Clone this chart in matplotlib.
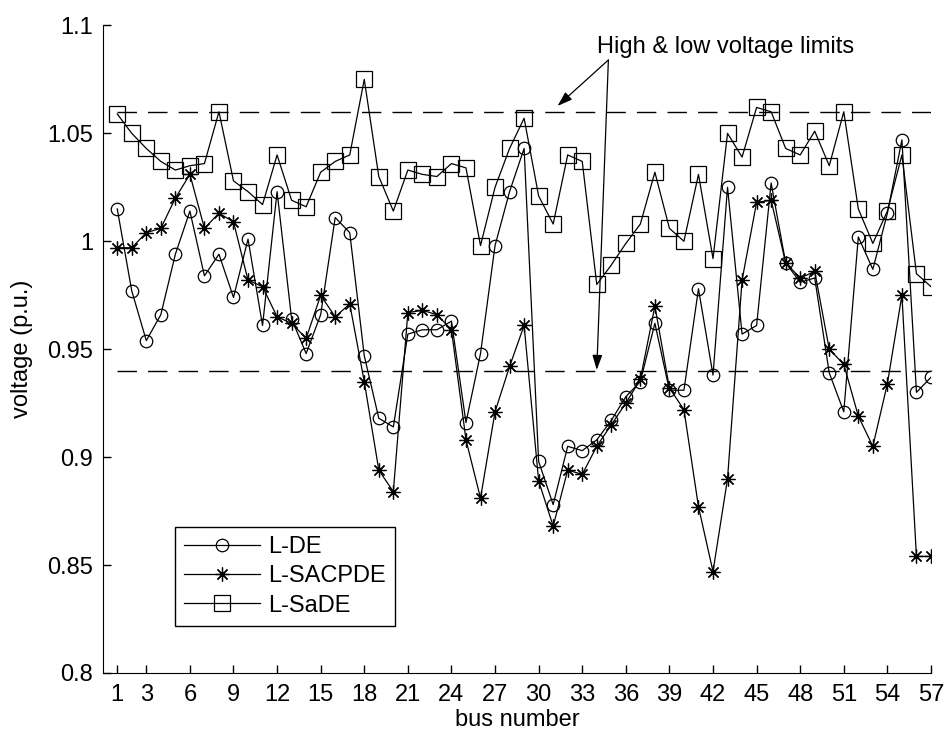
import matplotlib
matplotlib.use('Agg')
import matplotlib.pyplot as plt

bus = list(range(1, 58))

l_de = [1.015, 0.977, 0.954, 0.966, 0.994, 1.014, 0.984, 0.994, 0.974, 1.001,
        0.961, 1.023, 0.964, 0.948, 0.966, 1.011, 1.004, 0.947, 0.918, 0.914,
        0.957, 0.959, 0.959, 0.963, 0.916, 0.948, 0.998, 1.023, 1.043, 0.898,
        0.878, 0.905, 0.903, 0.908, 0.917, 0.928, 0.935, 0.962, 0.931, 0.931,
        0.978, 0.938, 1.025, 0.957, 0.961, 1.027, 0.990, 0.981, 0.983, 0.939,
        0.921, 1.002, 0.987, 1.013, 1.047, 0.930, 0.937]

l_sacpde = [0.997, 0.997, 1.004, 1.006, 1.020, 1.031, 1.006, 1.013, 1.009, 0.982,
            0.979, 0.965, 0.962, 0.955, 0.975, 0.965, 0.971, 0.935, 0.894, 0.884,
            0.967, 0.968, 0.966, 0.959, 0.908, 0.881, 0.921, 0.942, 0.961, 0.889,
            0.868, 0.894, 0.892, 0.905, 0.915, 0.925, 0.936, 0.970, 0.932, 0.922,
            0.877, 0.847, 0.890, 0.982, 1.018, 1.019, 0.990, 0.983, 0.986, 0.950,
            0.943, 0.919, 0.905, 0.934, 0.975, 0.854, 0.854]

l_sade = [1.059, 1.050, 1.043, 1.037, 1.033, 1.035, 1.036, 1.060, 1.028, 1.023,
          1.017, 1.040, 1.019, 1.016, 1.032, 1.037, 1.040, 1.075, 1.030, 1.014,
          1.033, 1.031, 1.030, 1.036, 1.034, 0.998, 1.025, 1.043, 1.057, 1.021,
          1.008, 1.040, 1.037, 0.980, 0.989, 0.999, 1.008, 1.032, 1.006, 1.000,
          1.031, 0.992, 1.050, 1.039, 1.062, 1.060, 1.043, 1.040, 1.051, 1.035,
          1.060, 1.015, 0.999, 1.014, 1.040, 0.985, 0.979]

v_high = 1.06
v_low = 0.94

x_ticks = [1, 3, 6, 9, 12, 15, 18, 21, 24, 27, 30, 33, 36, 39, 42, 45, 48, 51, 54, 57]
y_ticks = [0.8, 0.85, 0.9, 0.95, 1.0, 1.05, 1.1]
y_tick_labels = ['0.8', '0.85', '0.9', '0.95', '1', '1.05', '1.1']

plt.rcParams['font.family'] = ['Liberation Sans', 'DejaVu Sans']
fs = 17

fig = plt.figure(figsize=(9.44, 7.48), dpi=100)
ax = fig.add_axes([0.1088, 0.1003, 0.8774, 0.8657])

lw = 0.9
ax.plot(bus, l_de, color='black', lw=lw, marker='o', ms=9, mfc='none', mew=0.9, label='L-DE')
ax.plot(bus, l_sacpde, color='black', lw=lw, marker=(8, 2, 0), ms=10, mew=0.9, label='L-SACPDE')
ax.plot(bus, l_sade, color='black', lw=lw, marker='s', ms=11, mfc='none', mew=0.9, label='L-SaDE')

# voltage limit lines
ax.plot([1, 57], [v_high, v_high], color='black', lw=1, dashes=(14, 8))
ax.plot([1, 57], [v_low, v_low], color='black', lw=1, dashes=(14, 8))

ax.set_xlim(0, 57)
ax.set_ylim(0.8, 1.1)
ax.set_xticks(x_ticks)
ax.set_yticks(y_ticks)
ax.set_yticklabels(y_tick_labels)
ax.tick_params(direction='in', length=6, width=1, labelsize=fs, pad=7)
ax.tick_params(axis='x', pad=8)
ax.spines['top'].set_visible(False)
ax.spines['right'].set_visible(False)
ax.set_xlabel('bus number', fontsize=fs, labelpad=2)
ax.set_ylabel('voltage (p.u.)', fontsize=fs, labelpad=10)

ax.text(34.0, 1.085, 'High & low voltage limits', fontsize=fs, ha='left', va='bottom')
arrow = dict(arrowstyle='-|>,head_length=0.9,head_width=0.3', color='black', lw=0.9,
             shrinkA=0, shrinkB=0)
ax.annotate('', xy=(31.3, 1.0627), xytext=(34.8, 1.084), arrowprops=arrow)
ax.annotate('', xy=(34.0, 0.9404), xytext=(34.8, 1.084), arrowprops=arrow)

leg = ax.legend(loc='upper left', bbox_to_anchor=(0.087, 0.2255), fontsize=fs,
                frameon=True, fancybox=False, framealpha=1, edgecolor='black',
                handlelength=3.2, handletextpad=0.35, labelspacing=0.3,
                borderpad=0.4, borderaxespad=0)
leg.get_frame().set_linewidth(1)

plt.savefig('out.png', dpi=100)
plt.close()
